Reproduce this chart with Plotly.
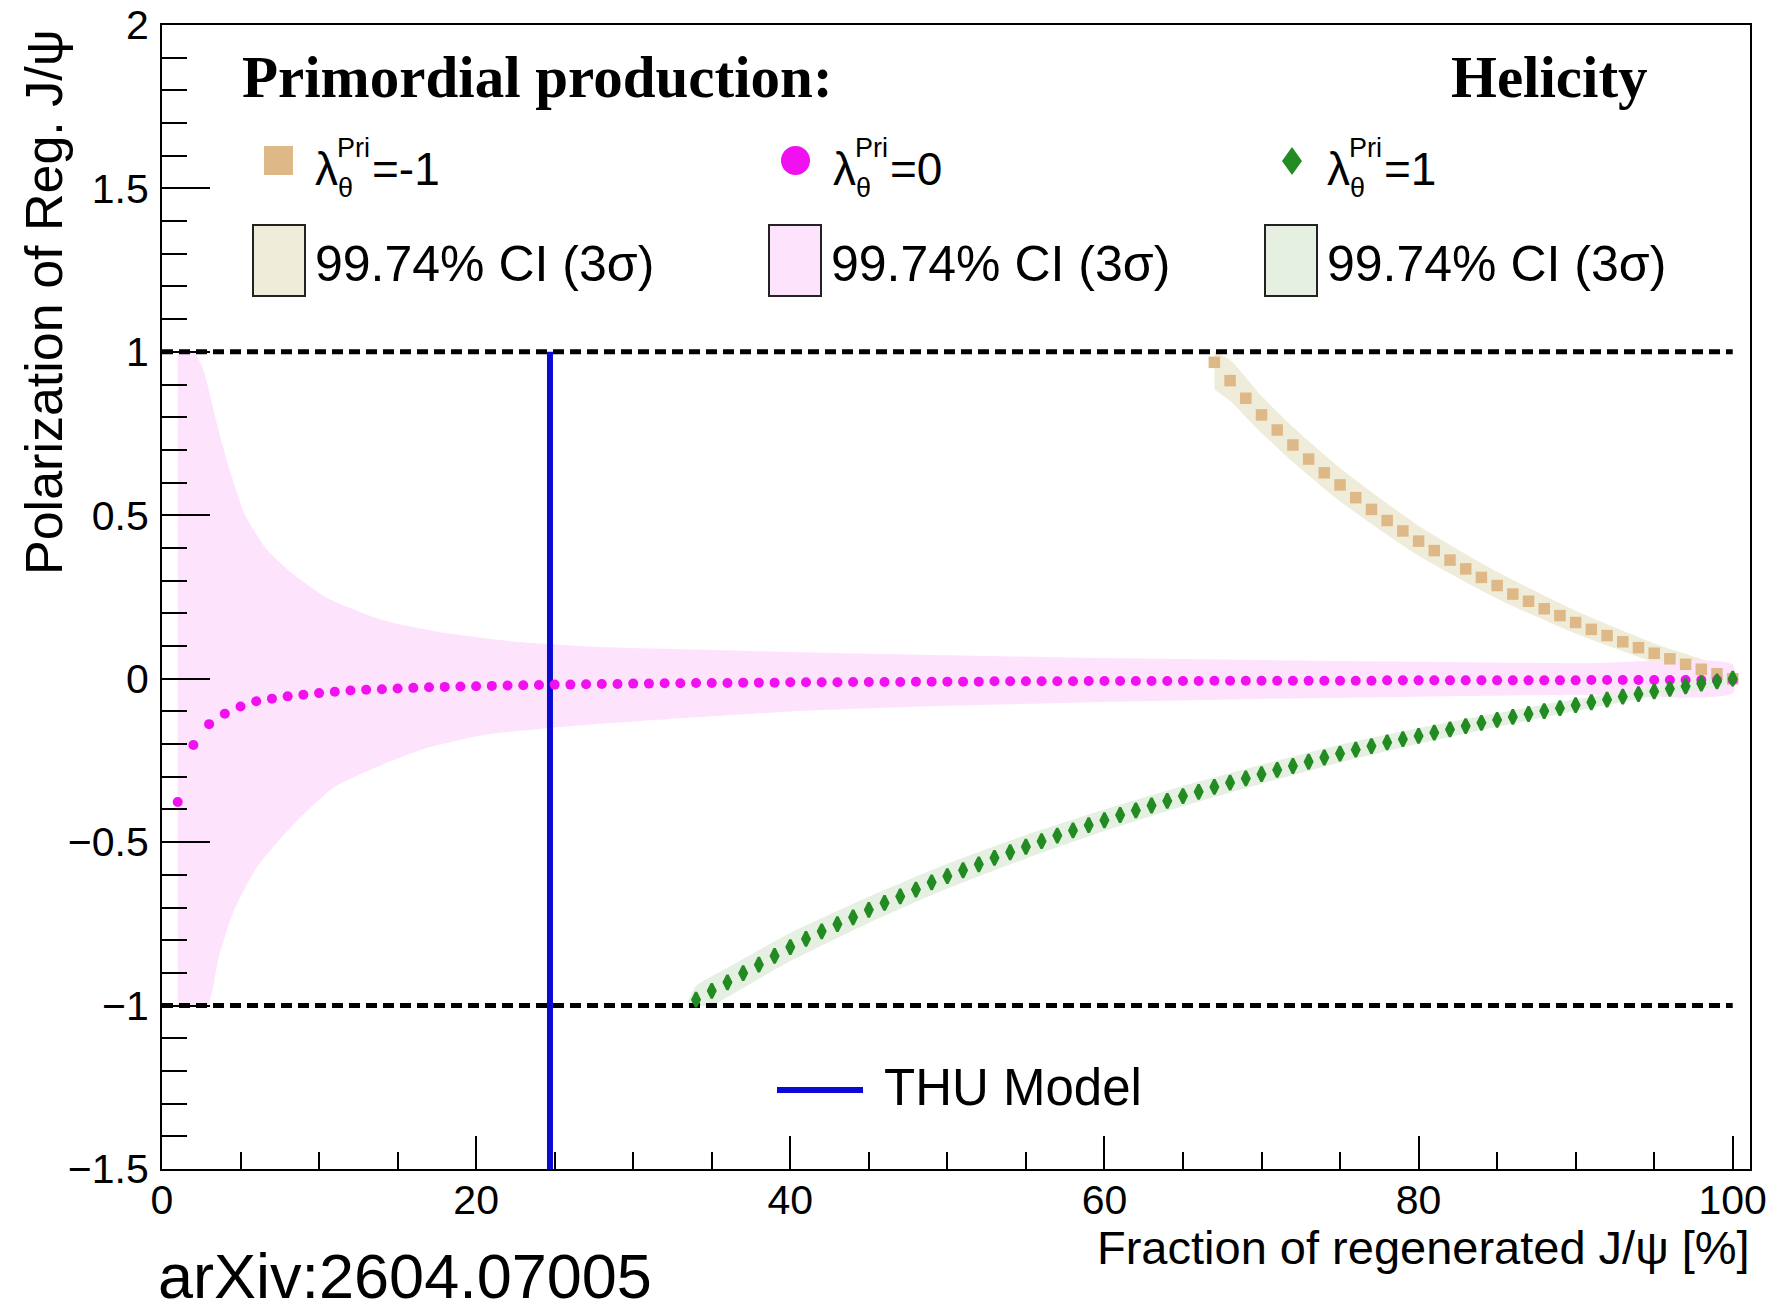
import plotly.graph_objects as go

# ---------------- data ----------------
FRAC_MAG = list(range(1, 101))
LAM_MAG = [-0.377, -0.203, -0.139, -0.107, -0.085, -0.069, -0.061, -0.054, -0.049, -0.044,
           -0.040, -0.036, -0.034, -0.032, -0.030, -0.028, -0.026, -0.025, -0.024, -0.023,
           -0.022, -0.021, -0.020, -0.019, -0.018, -0.018, -0.017, -0.016, -0.016, -0.015,
           -0.015, -0.014, -0.014, -0.013, -0.013, -0.013, -0.012, -0.012, -0.012, -0.011,
           -0.011, -0.011, -0.011, -0.010, -0.010, -0.010, -0.010, -0.009, -0.009, -0.009,
           -0.009, -0.009, -0.008, -0.008, -0.008, -0.008, -0.008, -0.008, -0.007, -0.007,
           -0.007, -0.007, -0.007, -0.007, -0.007, -0.007, -0.006, -0.006, -0.006, -0.006,
           -0.006, -0.006, -0.006, -0.006, -0.006, -0.006, -0.006, -0.005, -0.005, -0.005,
           -0.005, -0.005, -0.005, -0.005, -0.005, -0.005, -0.005, -0.005, -0.005, -0.005,
           -0.004, -0.004, -0.004, -0.004, -0.004, -0.004, -0.004, -0.004, -0.004, -0.004]

FRAC_TAN = list(range(67, 101))
LAM_TAN = [0.968, 0.912, 0.858, 0.807, 0.761, 0.715, 0.672, 0.630, 0.593, 0.554,
           0.518, 0.484, 0.452, 0.421, 0.392, 0.363, 0.336, 0.310, 0.285, 0.259,
           0.237, 0.214, 0.193, 0.172, 0.151, 0.132, 0.113, 0.095, 0.078, 0.061,
           0.044, 0.029, 0.015, 0.000]

FRAC_GRN = list(range(34, 101))
LAM_GRN = [-0.982, -0.955, -0.929, -0.901, -0.875, -0.848, -0.821, -0.796, -0.773, -0.751,
           -0.730, -0.707, -0.686, -0.666, -0.645, -0.623, -0.604, -0.586, -0.568, -0.548,
           -0.531, -0.514, -0.497, -0.480, -0.464, -0.448, -0.433, -0.417, -0.403, -0.388,
           -0.374, -0.359, -0.346, -0.331, -0.318, -0.305, -0.292, -0.279, -0.267, -0.254,
           -0.241, -0.229, -0.217, -0.206, -0.195, -0.185, -0.175, -0.165, -0.155, -0.145,
           -0.135, -0.126, -0.117, -0.108, -0.099, -0.090, -0.081, -0.072, -0.064, -0.055,
           -0.047, -0.039, -0.031, -0.023, -0.015, -0.008, 0.000]

# 99.74% CI bands (edges)
PINK_UP_X = [1, 2.0, 2.6, 3.0, 3.6, 4.3, 5.3, 6.6, 8.1, 10.4, 14.0, 18.3, 22.5, 27.8, 35, 40, 50, 60, 70, 80, 90, 100]
PINK_UP_Y = [1.0, 1.0, 0.95, 0.88, 0.76, 0.64, 0.50, 0.40, 0.33, 0.25, 0.18, 0.138, 0.113, 0.097, 0.088, 0.082, 0.072, 0.063, 0.057, 0.052, 0.047, 0.043]
PINK_LO_X = [1, 2.86, 3.6, 4.5, 6.0, 8.4, 10.9, 14.1, 17.0, 20.5, 24.7, 27.9, 35, 40, 50, 60, 70, 80, 90, 100]
PINK_LO_Y = [-1.0, -1.0, -0.855, -0.718, -0.58, -0.444, -0.334, -0.262, -0.210, -0.172, -0.151, -0.138, -0.115, -0.10, -0.083, -0.071, -0.062, -0.055, -0.049, -0.044]

TAN_UP_X = [67, 68, 70, 72, 75, 80, 85, 90, 95, 100]
TAN_UP_Y = [1.0, 0.975, 0.865, 0.77, 0.645, 0.468, 0.327, 0.208, 0.108, 0.02]
TAN_LO_X = [67, 68, 70, 72, 75, 80, 85, 90, 95, 100]
TAN_LO_Y = [0.885, 0.85, 0.752, 0.663, 0.543, 0.376, 0.245, 0.138, 0.05, -0.02]

GRN_UP_X = [33.5, 34, 36, 40, 45, 50, 55, 60, 65, 70, 75, 80, 85, 90, 95, 100]
GRN_UP_Y = [-0.985, -0.94, -0.884, -0.778, -0.667, -0.566, -0.478, -0.400, -0.328, -0.263, -0.202, -0.151, -0.105, -0.063, -0.025, 0.012]
GRN_LO_X = [33.5, 35, 36, 40, 45, 50, 55, 60, 65, 70, 75, 80, 85, 90, 95, 100]
GRN_LO_Y = [-1.0, -1.0, -0.974, -0.864, -0.747, -0.642, -0.55, -0.466, -0.39, -0.321, -0.256, -0.199, -0.147, -0.099, -0.053, -0.012]

PHYS_LIMITS = [1, -1]
THU_FRAC = 24.7

X_TICKS = [0, 20, 40, 60, 80, 100]
Y_TICKS = [-1.5, -1, -0.5, 0, 0.5, 1, 1.5, 2]

# ---------------- styling ----------------
W, H = 1768, 1312
L, R, T, B = 162, 1750, 25, 1169
SANS = "Liberation Sans, Arial, Helvetica, sans-serif"
SERIF = "Liberation Serif, Times New Roman, serif"

C_TAN, C_TAN_BAND = "#deb887", "#f0ecda"
C_MAG, C_MAG_BAND = "#f010f0", "#fde4fc"
C_GRN, C_GRN_BAND = "#228b22", "#e5f0e2"
C_BLUE = "#0a0ad2"


def px(x):
    return (x - L) / (R - L)


def py(y):
    return (B - y) / (B - T)


fig = go.Figure()


def band(xu, yu, xl, yl, color):
    fig.add_trace(go.Scatter(x=list(xu) + list(xl)[::-1], y=list(yu) + list(yl)[::-1],
                             mode="lines", fill="toself", fillcolor=color,
                             line=dict(width=0, shape="spline", smoothing=0.6),
                             hoverinfo="skip", showlegend=False))


band(TAN_UP_X, TAN_UP_Y, TAN_LO_X, TAN_LO_Y, C_TAN_BAND)
band(PINK_UP_X, PINK_UP_Y, PINK_LO_X, PINK_LO_Y, C_MAG_BAND)
band(GRN_UP_X, GRN_UP_Y, GRN_LO_X, GRN_LO_Y, C_GRN_BAND)

for v in PHYS_LIMITS:
    fig.add_trace(go.Scatter(x=[0, 100], y=[v, v], mode="lines",
                             line=dict(color="black", width=5, dash="11px,6px"),
                             hoverinfo="skip", showlegend=False))

fig.add_trace(go.Scatter(x=[THU_FRAC, THU_FRAC], y=[-1.5, 1], mode="lines",
                         line=dict(color=C_BLUE, width=6), showlegend=False))

fig.add_trace(go.Scatter(x=FRAC_TAN, y=LAM_TAN, mode="markers",
                         marker=dict(symbol="square", size=11.5, color=C_TAN), showlegend=False))
fig.add_trace(go.Scatter(x=FRAC_MAG, y=LAM_MAG, mode="markers",
                         marker=dict(symbol="circle", size=10, color=C_MAG), showlegend=False))
fig.add_trace(go.Scatter(x=FRAC_GRN, y=LAM_GRN, mode="markers",
                         marker=dict(symbol="diamond-tall", size=10.5, color=C_GRN,
                                     line=dict(color=C_GRN, width=2.5)), showlegend=False))

# ---------------- legend decorations ----------------
shapes = []
annotations = []


def text(x, y, s, size, family=SANS, xanchor="left", yanchor="middle", angle=0):
    annotations.append(dict(x=px(x), y=py(y), xref="paper", yref="paper", text=s,
                            showarrow=False, xanchor=xanchor, yanchor=yanchor,
                            textangle=angle, font=dict(family=family, size=size, color="black")))


text(240, 77, "<b>Primordial production:</b>", 59, SERIF)
text(1449, 77, "<b>Helicity</b>", 59, SERIF)

# marker legend row
shapes.append(dict(type="rect", xref="paper", yref="paper", x0=px(264), x1=px(293),
                   y0=py(175), y1=py(146), fillcolor=C_TAN, line=dict(width=0)))
shapes.append(dict(type="circle", xref="paper", yref="paper", x0=px(781), x1=px(810),
                   y0=py(175), y1=py(146), fillcolor=C_MAG, line=dict(width=0)))
cx, cy = 1292, 161
shapes.append(dict(type="path", xref="paper", yref="paper",
                   path="M %f %f L %f %f L %f %f L %f %f Z" % (
                       px(cx), py(cy - 14), px(cx + 10), py(cy), px(cx), py(cy + 14), px(cx - 10), py(cy)),
                   fillcolor=C_GRN, line=dict(width=0)))

for x0, val in [(313, "=-1"), (831, "=0"), (1325, "=1")]:
    text(x0, 169, "λ", 46)
    text(x0 + 22, 148, "Pri", 27)
    text(x0 + 23, 188, "θ", 27)
    text(x0 + 57, 169, val, 46)

# CI legend row
for bx, col in [(253, C_TAN_BAND), (769, C_MAG_BAND), (1265, C_GRN_BAND)]:
    shapes.append(dict(type="rect", xref="paper", yref="paper", x0=px(bx), x1=px(bx + 52),
                       y0=py(296), y1=py(225), fillcolor=col, line=dict(color="#222222", width=2)))
    text(bx + 60, 264, "99.74% CI (3σ)", 50)

# THU model legend
shapes.append(dict(type="line", xref="paper", yref="paper", x0=px(777), x1=px(863),
                   y0=py(1090), y1=py(1090), line=dict(color=C_BLUE, width=6)))
text(882, 1087, "THU Model", 51)

# axis titles and source
text(44, 27, "Polarization of Reg. J/ψ", 52, xanchor="center", yanchor="top", angle=-90)
text(1752, 1247, "Fraction of regenerated J/ψ [%]", 47, xanchor="right")
text(156, 1276, "arXiv:2604.07005", 63)

axis_common = dict(showline=True, mirror=True, linecolor="black", linewidth=2,
                   ticks="inside", tickcolor="black", tickwidth=2, showgrid=False,
                   zeroline=False, automargin=False,
                   tickfont=dict(family=SANS, size=41, color="black"))

fig.update_layout(
    width=W, height=H,
    margin=dict(l=L, r=W - R, t=T, b=H - B, pad=0, autoexpand=False),
    paper_bgcolor="white", plot_bgcolor="white",
    showlegend=False,
    xaxis=dict(range=[0, 101.1], tickmode="array", tickvals=X_TICKS, ticklen=33,
               ticklabelstandoff=-6,
               minor=dict(dtick=5, tick0=0, ticklen=17, tickwidth=2, ticks="inside", tickcolor="black"),
               **axis_common),
    yaxis=dict(range=[-1.5, 2], tickmode="array", tickvals=Y_TICKS, ticklen=48,
               ticklabelstandoff=3,
               minor=dict(dtick=0.1, tick0=0, ticklen=25, tickwidth=2, ticks="inside", tickcolor="black"),
               **axis_common),
    shapes=shapes,
    annotations=annotations,
)

fig.write_html("out.html")
